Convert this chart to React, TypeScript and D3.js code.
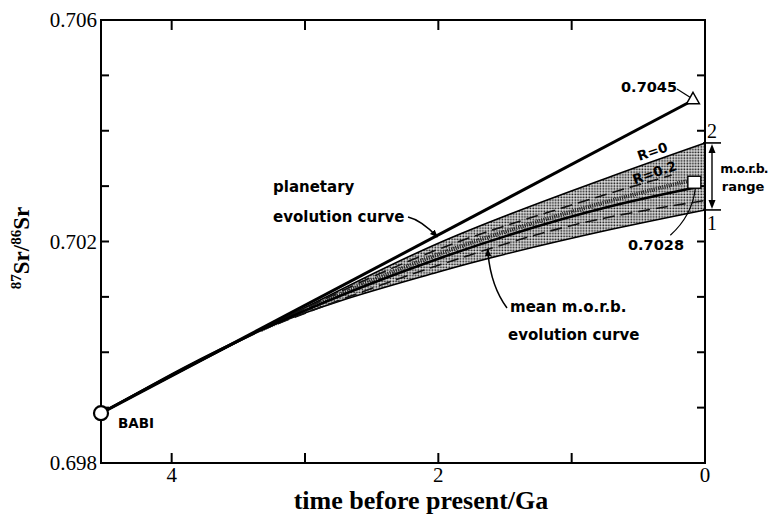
import React from "react";
import * as d3 from "d3";

// ---- data ----
const X_DOMAIN = [4.53, 0];
const Y_DOMAIN = [0.698, 0.706];
const X_TICKS = [4, 3, 2, 1];
const X_TICK_LABELS = [4, 2, 0];
const Y_TICKS = [0.699, 0.7, 0.701, 0.702, 0.703, 0.704, 0.705];
const Y_TICK_LABELS = [0.698, 0.702, 0.706];

const BABI_T = 4.53;
const BABI_V = 0.6989;

const planetaryT = [4.53, 0.09];
const planetaryV = [0.6989, 0.70455];

const bandT = [4.53, 3.33, 2.0, 0.7, 0];
const bandUpperV = [0.6989, 0.7004, 0.70197, 0.70318, 0.70378];
const bandLowerV = [0.6989, 0.7004, 0.70145, 0.70222, 0.70257];

const meanT = [4.53, 3.33, 2.0, 0.7, 0.08];
const meanV = [0.6989, 0.7004, 0.70169, 0.70264, 0.70297];

const r02T = [3.33, 2.0, 1.0, 0.12];
const r02V = [0.7004, 0.70177, 0.70254, 0.7031];

const dashAT = [3.33, 2.0, 1.0, 0.25];
const dashAV = [0.7004, 0.70186, 0.70266, 0.7032];

const dashBT = [3.33, 2.0, 1.0, 0.0];
const dashBV = [0.7004, 0.70157, 0.70229, 0.70274];

const PRESENT_PLANETARY = 0.7045;
const PRESENT_MORB = 0.7028;
const MORB_SQUARE_T = 0.08;
const MORB_SQUARE_V = 0.70307;
const RANGE_TOP = 0.70378;
const RANGE_BOTTOM = 0.70257;

const W = 772;
const H = 515;
const L = 101, R = 705, T = 20, B = 463;

const sans = "DejaVu Sans";
const serif = "Liberation Serif";

export default function App() {
  const x = d3.scaleLinear().domain(X_DOMAIN).range([L, R]);
  const y = d3.scaleLinear().domain(Y_DOMAIN).range([B, T]);

  const pts = (ts: number[], vs: number[]) => ts.map((t, i) => [t, vs[i]] as [number, number]);
  const line = d3
    .line<[number, number]>()
    .x((d) => x(d[0]))
    .y((d) => y(d[1]))
    .curve(d3.curveMonotoneX);
  const straight = d3
    .line<[number, number]>()
    .x((d) => x(d[0]))
    .y((d) => y(d[1]));
  const area = d3
    .area<number>()
    .x((_, i) => x(bandT[i]))
    .y0((_, i) => y(bandLowerV[i]))
    .y1((_, i) => y(bandUpperV[i]))
    .curve(d3.curveMonotoneX);

  const triX = x(planetaryT[1]);
  const triY = y(planetaryV[1]);
  const sqX = x(MORB_SQUARE_T);
  const sqY = y(MORB_SQUARE_V);
  const rTop = y(RANGE_TOP);
  const rBot = y(RANGE_BOTTOM);
  const bx = R + 7;

  const pTipT = 2.0;
  const pTipV =
    planetaryV[0] +
    ((planetaryV[1] - planetaryV[0]) * (planetaryT[0] - pTipT)) / (planetaryT[0] - planetaryT[1]);
  const pTipX = x(pTipT) - 1;
  const pTipY = y(pTipV) + 2;
  const mTipX = x(1.63);
  const mTipY = y(0.7019) + 2;

  return (
    <svg width={W} height={H} style={{ position: "absolute", left: 0, top: 0, background: "#fff" }}>
      <defs>
        <pattern id="stip" width="2.8" height="2.8" patternUnits="userSpaceOnUse">
          <rect width="2.8" height="2.8" fill="#fff" />
          <rect x="0.4" y="0.4" width="1.8" height="1.8" fill="#111" />
        </pattern>
        <marker id="ah" viewBox="0 0 10 10" refX="9" refY="5" markerWidth="8" markerHeight="8" orient="auto" markerUnits="userSpaceOnUse">
          <path d="M0,1 L10,5 L0,9 z" fill="#000" />
        </marker>
      </defs>

      {/* band */}
      <path d={area(bandT) || ""} fill="url(#stip)" stroke="none" />
      <path d={line(pts(bandT, bandUpperV)) || ""} fill="none" stroke="#000" strokeWidth={1.6} />
      <path d={line(pts(bandT, bandLowerV)) || ""} fill="none" stroke="#000" strokeWidth={1.6} />
      <path d={line(pts(dashAT, dashAV)) || ""} fill="none" stroke="#111" strokeWidth={1.6} strokeDasharray="12 6" />
      <path d={line(pts(dashBT, dashBV)) || ""} fill="none" stroke="#111" strokeWidth={1.6} strokeDasharray="12 6" />
      <path d={line(pts(r02T, r02V)) || ""} fill="none" stroke="#222" strokeWidth={4} strokeDasharray="1 1.2" />
      <path d={line(pts(meanT, meanV)) || ""} fill="none" stroke="#000" strokeWidth={2.6} />

      {/* planetary */}
      <path d={straight(pts(planetaryT, planetaryV)) || ""} fill="none" stroke="#000" strokeWidth={3} />

      {/* frame */}
      <rect x={L} y={T} width={R - L} height={B - T} fill="none" stroke="#000" strokeWidth={2} />
      {X_TICKS.map((t) => (
        <g key={"xt" + t}>
          <line x1={x(t)} x2={x(t)} y1={B} y2={B - 10} stroke="#000" strokeWidth={2} />
          <line x1={x(t)} x2={x(t)} y1={T} y2={T + 10} stroke="#000" strokeWidth={2} />
        </g>
      ))}
      {Y_TICKS.map((v) => (
        <g key={"yt" + v}>
          <line x1={L} x2={L + 8} y1={y(v)} y2={y(v)} stroke="#000" strokeWidth={2} />
          <line x1={R} x2={R - 8} y1={y(v)} y2={y(v)} stroke="#000" strokeWidth={2} />
        </g>
      ))}
      {X_TICK_LABELS.map((t) => (
        <text key={"xl" + t} x={x(t)} y={B + 19} textAnchor="middle" fontFamily={serif} fontSize={21}>
          {t}
        </text>
      ))}
      {Y_TICK_LABELS.map((v) => (
        <text key={"yl" + v} x={L - 4} y={y(v) + 7} textAnchor="end" fontFamily={serif} fontSize={21}>
          {d3.format(".3f")(v)}
        </text>
      ))}

      {/* axis titles */}
      <text x={421} y={509} textAnchor="middle" fontFamily={serif} fontWeight="bold" fontSize={26}>
        time before present/Ga
      </text>
      <text transform="translate(29,248) rotate(-90)" textAnchor="middle" fontFamily={serif} fontWeight="bold" fontSize={23}>
        <tspan fontSize={15} dy={-8}>87</tspan>
        <tspan dy={8}>Sr/</tspan>
        <tspan fontSize={15} dy={-8}>86</tspan>
        <tspan dy={8}>Sr</tspan>
      </text>

      {/* BABI */}
      <circle cx={x(BABI_T)} cy={y(BABI_V)} r={7} fill="#fff" stroke="#000" strokeWidth={2.2} />
      <text x={x(BABI_T) + 17} y={y(BABI_V) + 15} fontFamily={sans} fontWeight="bold" fontSize={13.5}>
        BABI
      </text>

      {/* planetary label & arrow */}
      <text x={273} y={192} fontFamily={sans} fontWeight="bold" fontSize={15}>
        planetary
      </text>
      <text x={273} y={222} fontFamily={sans} fontWeight="bold" fontSize={15}>
        evolution curve
      </text>
      <path d={`M${408},${217} Q${421},${220} ${pTipX},${pTipY}`} fill="none" stroke="#000" strokeWidth={1.5} markerEnd="url(#ah)" />

      {/* mean label & arrow */}
      <text x={510} y={312} fontFamily={sans} fontWeight="bold" fontSize={15}>
        mean m.o.r.b.
      </text>
      <text x={508} y={340} fontFamily={sans} fontWeight="bold" fontSize={15}>
        evolution curve
      </text>
      <path d={`M${507},${308} Q${490},${285} ${mTipX},${mTipY}`} fill="none" stroke="#000" strokeWidth={1.5} markerEnd="url(#ah)" />

      {/* triangle 0.7045 */}
      <line x1={677} y1={89} x2={triX - 3} y2={triY - 3} stroke="#000" strokeWidth={1.2} />
      <path
        d={`M${triX},${triY - 8} L${triX + 6.5},${triY + 3.5} L${triX - 6.5},${triY + 3.5} Z`}
        fill="#fff"
        stroke="#000"
        strokeWidth={1.4}
      />
      <text x={677} y={92} textAnchor="end" fontFamily={sans} fontWeight="bold" fontSize={14.5}>
        {PRESENT_PLANETARY}
      </text>

      {/* square 0.7028 */}
      <path
        d={`M${sqX + 1},${sqY + 6} Q${sqX - 2},${sqY + 33} ${sqX - 24},${sqY + 53}`}
        fill="none"
        stroke="#000"
        strokeWidth={1.2}
      />
      <rect x={sqX - 6.5} y={sqY - 6} width={13} height={12} fill="#fff" stroke="#000" strokeWidth={1.4} />
      <text x={656} y={250} textAnchor="middle" fontFamily={sans} fontWeight="bold" fontSize={14.5}>
        {PRESENT_MORB}
      </text>

      {/* R labels */}
      <text transform={`translate(654,156) rotate(-19)`} textAnchor="middle" fontFamily={sans} fontWeight="bold" fontSize={13.5}>
        R=0
      </text>
      <text transform={`translate(656,177) rotate(-19)`} textAnchor="middle" fontFamily={sans} fontWeight="bold" fontSize={13.5}>
        R=0.2
      </text>

      {/* m.o.r.b. range bracket */}
      <line x1={bx - 9} x2={bx + 9} y1={rTop} y2={rTop} stroke="#000" strokeWidth={1.6} />
      <line x1={bx - 9} x2={bx + 9} y1={rBot} y2={rBot} stroke="#000" strokeWidth={1.6} />
      <line x1={bx} x2={bx} y1={rTop + 6} y2={rBot - 6} stroke="#000" strokeWidth={1.4} />
      <path d={`M${bx},${rTop + 1} L${bx - 3.5},${rTop + 10} L${bx + 3.5},${rTop + 10} Z`} fill="#000" />
      <path d={`M${bx},${rBot - 1} L${bx - 3.5},${rBot - 10} L${bx + 3.5},${rBot - 10} Z`} fill="#000" />
      <text x={bx} y={rTop - 5} textAnchor="middle" fontFamily={serif} fontSize={20}>
        2
      </text>
      <text x={bx} y={rBot + 20} textAnchor="middle" fontFamily={serif} fontSize={20}>
        1
      </text>
      <text x={744} y={173} textAnchor="middle" fontFamily={sans} fontWeight="bold" fontSize={12.5} letterSpacing={-0.8}>
        m.o.r.b.
      </text>
      <text x={743} y={191} textAnchor="middle" fontFamily={sans} fontWeight="bold" fontSize={13}>
        range
      </text>
    </svg>
  );
}
